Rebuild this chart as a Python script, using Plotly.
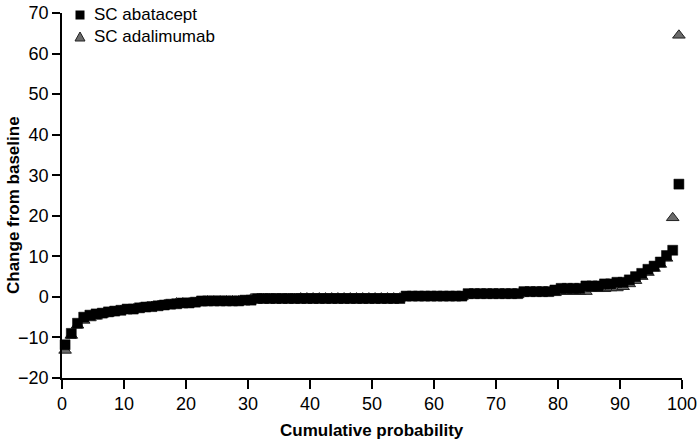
import plotly.graph_objects as go

# Sorted change-from-baseline values per arm
abatacept = [
    -11.8, -9.0, -6.5, -5.0, -4.5, -4.2, -4.0, -3.7, -3.5, -3.3,
    -3.0, -3.0, -2.7, -2.5, -2.4, -2.2, -2.0, -1.8, -1.7, -1.5,
    -1.5, -1.3, -1.0, -1.0, -1.0, -1.0, -1.0, -1.0, -1.0, -0.8,
    -0.8, -0.4, -0.4, -0.4, -0.4, -0.4, -0.4, -0.4, -0.4, -0.4,
    -0.4, -0.4, -0.4, -0.4, -0.4, -0.4, -0.4, -0.4, -0.4, -0.4,
    -0.4, -0.4, -0.4, -0.4, -0.4, 0.2, 0.2, 0.2, 0.2, 0.2,
    0.2, 0.2, 0.2, 0.2, 0.2, 0.8, 0.8, 0.8, 0.8, 0.8,
    0.8, 0.8, 0.8, 0.8, 1.3, 1.3, 1.3, 1.3, 1.3, 1.7,
    2.1, 2.1, 2.1, 2.1, 2.7, 2.7, 2.7, 3.2, 3.2, 3.6,
    3.6, 4.2, 5.0, 5.8, 6.8, 7.6, 8.6, 10.2, 11.5, 27.8,
]
adalimumab = [
    -13.2, -9.5, -7.0, -5.8, -5.2, -4.8, -4.3, -4.0, -3.7, -3.4,
    -3.2, -3.0, -2.8, -2.6, -2.4, -2.2, -2.0, -2.0, -1.5, -1.5,
    -1.5, -1.5, -1.5, -1.0, -1.0, -1.0, -1.0, -1.0, -1.0, -1.0,
    -0.5, -0.5, -0.5, -0.5, -0.5, -0.5, -0.5, -0.5, -0.3, -0.3,
    -0.3, -0.3, -0.3, -0.3, -0.3, -0.3, -0.3, -0.3, -0.3, -0.3,
    -0.3, -0.3, -0.3, -0.3, -0.3, 0.0, 0.0, 0.0, 0.0, 0.0,
    0.0, 0.0, 0.0, 0.0, 0.0, 0.5, 0.5, 0.5, 0.5, 0.5,
    0.5, 0.5, 0.5, 0.5, 1.0, 1.0, 1.0, 1.0, 1.0, 1.0,
    1.3, 1.3, 1.3, 1.3, 1.3, 2.0, 2.0, 2.0, 2.2, 2.2,
    2.5, 3.2, 4.0, 5.0, 6.0, 7.0, 8.0, 9.5, 19.5, 64.5,
]
x_ticks = [0, 10, 20, 30, 40, 50, 60, 70, 80, 90, 100]
y_ticks = [-20, -10, 0, 10, 20, 30, 40, 50, 60, 70]

FONT = "Liberation Sans, Arial, sans-serif"
W, H = 700, 445
MARGIN = {"l": 62, "r": 18, "t": 13, "b": 67}
PW = W - MARGIN["l"] - MARGIN["r"]
PH = H - MARGIN["t"] - MARGIN["b"]

TRI_FILL = "#6b6b6b"
TRI_LINE = "#222222"


def cum_prob(values):
    # plotting position (rank - 0.5) / n, in percent
    n = len(values)
    return [(i + 0.5) / n * 100 for i in range(n)]


def px(x):
    return (x - MARGIN["l"]) / PW


def py(y):
    return (H - MARGIN["b"] - y) / PH


fig = go.Figure()

# triangles first so the squares sit on top, as in the original
fig.add_scatter(
    x=cum_prob(adalimumab),
    y=adalimumab,
    mode="markers",
    name="SC adalimumab",
    marker={
        "symbol": "triangle-up",
        "size": 11,
        "color": TRI_FILL,
        "line": {"color": TRI_LINE, "width": 1},
    },
    cliponaxis=False,
)
fig.add_scatter(
    x=cum_prob(abatacept),
    y=abatacept,
    mode="markers",
    name="SC abatacept",
    marker={
        "symbol": "square",
        "size": 10,
        "color": "black",
        "line": {"color": "black", "width": 0.5},
    },
    cliponaxis=False,
)

axis_font = {"family": FONT, "size": 18, "color": "black"}
common = dict(
    showline=True,
    linecolor="black",
    linewidth=1.5,
    ticks="outside",
    tickwidth=1.5,
    tickcolor="black",
    tickfont=axis_font,
    showgrid=False,
    zeroline=False,
    automargin=False,
)
fig.update_xaxes(range=[0, 100], tickvals=x_ticks, ticklen=9, **common)
fig.update_yaxes(range=[-20, 70], tickvals=y_ticks, ticklen=8, **common)

# axis titles placed by hand
fig.add_annotation(
    xref="paper", yref="paper", x=px(13), y=py(205),
    xanchor="center", yanchor="middle",
    text="<b>Change from baseline</b>", textangle=-90, showarrow=False,
    font={"family": FONT, "size": 17, "color": "black"},
)
fig.add_annotation(
    xref="paper", yref="paper", x=0.5, y=py(430),
    xanchor="center", yanchor="middle",
    text="<b>Cumulative probability</b>", showarrow=False,
    font={"family": FONT, "size": 17, "color": "black"},
)

# hand-drawn legend in the top-left corner (a plotly legend there would push the margin)
sq_cx, sq_cy, tri_cy, half = 80, 15, 37, 4.5
fig.add_shape(
    type="rect", xref="paper", yref="paper",
    x0=px(sq_cx - half), x1=px(sq_cx + half), y0=py(sq_cy + half), y1=py(sq_cy - half),
    fillcolor="black", line={"width": 0},
)
fig.add_shape(
    type="path", xref="paper", yref="paper",
    path=(
        f"M {px(sq_cx - 5)},{py(tri_cy + 4)} L {px(sq_cx + 5)},{py(tri_cy + 4)} "
        f"L {px(sq_cx)},{py(tri_cy - 5)} Z"
    ),
    fillcolor=TRI_FILL, line={"color": TRI_LINE, "width": 1},
)
for label, cy in [("SC abatacept", sq_cy), ("SC adalimumab", tri_cy)]:
    fig.add_annotation(
        xref="paper", yref="paper", x=px(92), y=py(cy),
        xanchor="left", yanchor="middle", text=label, showarrow=False,
        font={"family": FONT, "size": 17, "color": "black"},
    )

fig.update_layout(
    width=W,
    height=H,
    margin=MARGIN,
    paper_bgcolor="white",
    plot_bgcolor="white",
    showlegend=False,
)

# the page body has a default 8px margin; drop it so the figure fills the window
fig.write_html(
    "out.html",
    config={"displayModeBar": False},
    post_script="document.body.style.margin = '0';",
)
